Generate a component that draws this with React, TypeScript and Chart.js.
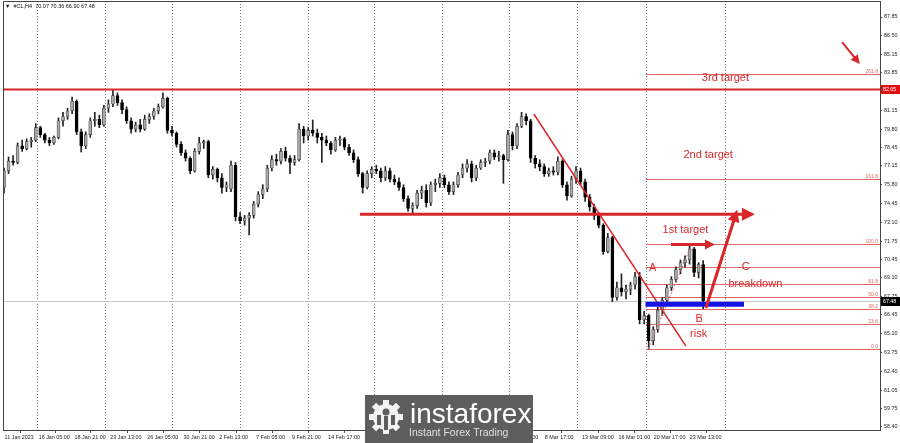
import React, { useEffect, useRef } from 'react';
import { Chart, registerables } from 'chart.js';
Chart.register(...registerables);

// ---- DATA (8-hour candles, #CL H4 chart) ----
const opens = [75.6,76.8,77.5,77.4,78.6,78.4,78.9,79.0,79.9,79.4,79.0,78.8,79.2,80.4,80.7,81.1,81.8,79.6,78.6,79.4,80.4,80.5,80.1,81.3,81.6,82.2,81.7,81.2,80.4,79.8,80.1,79.8,80.5,80.7,81.1,81.4,82.0,79.7,79.5,78.7,78.1,77.7,76.8,78.2,78.8,78.9,76.5,76.9,76.3,75.6,75.5,77.2,73.5,73.2,73.4,73.6,74.4,75.1,75.5,77.0,77.6,77.5,78.2,77.7,77.4,77.6,79.8,79.3,79.7,79.5,79.2,79.0,78.8,78.3,79.0,79.1,78.5,78.1,77.6,76.6,75.6,76.6,76.9,76.8,76.3,76.8,76.2,76.0,75.6,74.8,74.1,74.3,75.2,75.4,74.5,75.8,75.9,76.3,75.8,75.3,75.8,76.5,77.0,77.3,76.3,77.0,77.4,77.5,78.1,77.8,77.9,77.6,79.4,78.6,80.0,80.7,80.4,77.7,77.3,77.1,76.6,76.8,76.7,77.5,75.8,75.0,76.2,76.8,76.0,74.9,74.2,73.6,72.9,71.0,72.0,67.7,68.4,68.1,68.3,68.6,69.2,66.1,66.4,64.6,65.4,66.8,67.5,68.4,69.0,69.7,70.2,70.4,71.2,69.5,70.07];
const highs = [77.0,77.8,77.9,78.8,79.0,79.1,79.2,80.2,80.0,79.5,79.2,79.3,80.6,81.0,81.3,82.1,81.9,79.8,79.6,80.6,81.0,80.8,81.5,81.9,82.6,82.4,81.9,81.4,80.6,80.3,80.5,80.8,80.9,81.3,81.6,82.4,82.1,80.0,79.6,78.9,78.3,77.8,78.4,79.2,79.0,79.0,77.1,77.0,76.6,76.0,77.5,77.4,73.8,73.6,73.8,74.6,75.3,75.8,77.2,77.9,78.0,78.4,78.5,77.9,77.9,80.2,80.0,79.9,80.45,79.8,79.5,79.3,78.9,79.2,79.3,79.2,78.7,78.3,77.8,76.7,76.8,77.1,77.2,77.0,77.1,77.0,76.5,76.3,75.8,75.0,74.5,75.4,75.7,75.8,76.0,76.2,76.6,76.5,76.0,76.0,76.7,77.3,77.6,77.5,77.2,77.6,77.7,78.3,78.3,78.2,78.0,79.7,79.6,80.2,81.0,80.9,80.5,77.9,77.6,77.3,77.0,77.1,77.8,77.6,76.0,76.4,77.1,77.0,76.2,75.1,74.4,73.8,73.0,72.3,72.1,68.8,69.4,68.6,68.8,69.5,69.5,66.7,66.5,65.6,67.0,67.7,68.6,69.2,69.9,70.4,70.7,71.55,71.3,70.2,70.36];
const lows = [75.2,76.6,77.2,77.3,78.2,78.3,78.5,78.9,79.2,78.8,78.6,78.7,79.1,80.0,80.5,80.9,79.4,78.15,78.4,79.2,80.0,79.9,80.0,81.0,81.4,81.5,80.9,80.2,79.5,79.6,79.6,79.7,80.2,80.5,80.9,81.3,79.5,79.3,78.5,77.9,77.5,76.6,76.7,78.0,78.4,76.3,76.2,76.0,75.2,75.3,75.3,73.2,73.0,72.9,72.2,73.4,74.2,74.8,75.3,76.8,77.2,77.3,77.5,76.6,77.2,77.5,78.8,79.0,79.3,78.8,77.4,78.6,78.0,78.2,78.6,78.3,77.9,77.4,76.4,75.2,75.5,76.3,76.6,76.0,76.1,76.0,75.8,75.4,74.6,73.9,73.7,74.1,74.8,74.2,74.3,75.3,75.6,75.6,75.1,75.1,75.6,76.3,76.7,76.0,76.1,76.9,77.1,77.3,77.6,77.5,75.9,77.5,78.3,78.4,79.9,80.1,77.4,77.0,76.8,76.4,76.4,76.5,76.5,75.6,74.7,74.9,75.9,75.8,74.6,73.9,73.3,72.7,70.8,70.9,67.4,67.5,67.8,67.6,67.9,68.3,65.8,65.8,64.0,64.3,65.2,66.4,67.2,68.2,68.8,69.4,69.9,70.1,69.2,69.1,66.90];
const closes = [76.8,77.5,77.4,78.6,78.4,78.9,79.0,79.9,79.4,79.0,78.8,79.2,80.4,80.7,81.1,81.8,79.6,78.6,79.4,80.4,80.5,80.1,81.3,81.6,82.2,81.7,81.2,80.4,79.8,80.1,79.8,80.5,80.7,81.1,81.4,82.0,79.7,79.5,78.7,78.1,77.7,76.8,78.2,78.8,78.9,76.5,76.9,76.3,75.6,75.8,77.2,73.5,73.2,73.4,73.6,74.4,75.1,75.5,77.0,77.6,77.5,78.2,77.7,77.4,77.6,79.8,79.3,79.7,79.5,79.2,79.0,78.8,78.3,79.0,79.1,78.5,78.1,77.6,76.6,75.6,76.6,76.9,76.8,76.3,76.8,76.2,76.0,75.6,74.8,74.1,74.3,75.2,75.4,74.5,75.8,75.9,76.3,75.8,75.3,75.8,76.5,77.0,77.3,76.3,77.0,77.4,77.5,78.1,77.8,77.9,77.6,79.4,78.6,80.0,80.7,80.4,77.7,77.3,77.1,76.6,76.8,76.7,77.5,75.8,75.0,76.2,76.8,76.0,74.9,74.2,73.6,72.9,71.0,72.0,67.7,68.4,68.1,68.3,68.6,69.2,66.1,66.4,64.6,65.4,66.8,67.5,68.4,69.0,69.7,70.2,70.4,71.2,69.5,70.07,67.48];

const xTickIdx = [-0.2,7.3,15.2,23.1,31.2,39.2,47.1,55.2,63.1,71.1,79.1,87.1,95.1,103.1,111.0,118.8,127.0,135.0,142.8,150.7];
const xTickLabels = ['11 Jan 2023','16 Jan 05:00','18 Jan 21:00','23 Jan 13:00','26 Jan 05:00','30 Jan 21:00','2 Feb 13:00','7 Feb 05:00','9 Feb 21:00','14 Feb 17:00','17 Feb 09:00','22 Feb 01:00','24 Feb 17:00','1 Mar 09:00','6 Mar 01:00','8 Mar 17:00','13 Mar 09:00','16 Mar 01:00','20 Mar 17:00','23 Mar 13:00'];
const yTickValues = [87.85,86.50,85.15,83.85,82.50,81.15,79.80,78.45,77.15,75.80,74.45,73.10,71.75,70.45,69.10,67.75,66.45,65.10,63.75,62.40,61.05,59.75,58.40];
const gridIdx = [7.3,22.2,37.0,52.0,67.0,81.5,96.5,111.2,126.2,141.4,158.8];

const fibLevels = [0, 23.6, 38.2, 50.0, 61.8, 100.0, 161.8, 261.8];
const fibLow = 64.0;
const fibHigh = 71.54;
const fibStartIdx = 141.3;
const lineC = 69.87;
const resistance = 82.65;
const support = 73.68;
const lastPrice = 67.48;
const blueLevel = 67.21;

const X_MIN = -0.22, X_MAX = 192.95, Y_MIN = 58.18, Y_MAX = 89.0;

const notes = [
  { text: '3rd target', i: 158.9, v: 83.49 },
  { text: '2nd target', i: 155.1, v: 77.91 },
  { text: '1st target', i: 150.1, v: 72.55 },
  { text: 'A', i: 142.9, v: 69.8 },
  { text: 'C', i: 163.4, v: 69.87 },
  { text: 'breakdown', i: 165.5, v: 68.67 },
  { text: 'B', i: 153.1, v: 66.13 },
  { text: 'risk', i: 153.0, v: 65.06 },
];

const AX_FONT = "'Liberation Sans', Arial, sans-serif";
const RED = '#d8262a';
const FIB = '#e06464';

function arrow(ctx: CanvasRenderingContext2D, x1: number, y1: number, x2: number, y2: number, w: number, head: number, color: string) {
  const ang = Math.atan2(y2 - y1, x2 - x1);
  ctx.strokeStyle = color; ctx.lineWidth = w; ctx.lineCap = 'butt';
  ctx.beginPath(); ctx.moveTo(x1, y1);
  ctx.lineTo(x2 - Math.cos(ang) * head * 0.8, y2 - Math.sin(ang) * head * 0.8); ctx.stroke();
  ctx.fillStyle = color; ctx.beginPath();
  ctx.moveTo(x2, y2);
  ctx.lineTo(x2 - head * Math.cos(ang) + head * 0.5 * Math.sin(ang), y2 - head * Math.sin(ang) - head * 0.5 * Math.cos(ang));
  ctx.lineTo(x2 - head * Math.cos(ang) - head * 0.5 * Math.sin(ang), y2 - head * Math.sin(ang) + head * 0.5 * Math.cos(ang));
  ctx.closePath(); ctx.fill();
}

const overlay = {
  id: 'overlay',
  beforeDatasetsDraw(chart: any) {
    const { ctx, chartArea: a, scales } = chart;
    const px = (i: number) => scales.x.getPixelForValue(i);
    const py = (v: number) => scales.y.getPixelForValue(v);
    ctx.save();
    ctx.beginPath(); ctx.rect(a.left, a.top, a.right - a.left, a.bottom - a.top); ctx.clip();
    ctx.strokeStyle = '#7a7a7a'; ctx.lineWidth = 1; ctx.setLineDash([1, 2]);
    gridIdx.forEach((g) => { const X = Math.round(px(g)) + 0.5; ctx.beginPath(); ctx.moveTo(X, a.top); ctx.lineTo(X, a.bottom); ctx.stroke(); });
    ctx.setLineDash([]);
    // last price line
    ctx.strokeStyle = '#c8c8c8';
    let Y = Math.round(py(lastPrice)) + 0.5;
    ctx.beginPath(); ctx.moveTo(a.left, Y); ctx.lineTo(a.right, Y); ctx.stroke();
    // fib levels
    ctx.strokeStyle = FIB; ctx.fillStyle = FIB;
    ctx.font = `5px ${AX_FONT}`; ctx.textAlign = 'right'; ctx.textBaseline = 'bottom';
    const x0 = Math.round(px(fibStartIdx));
    fibLevels.forEach((f) => {
      const v = fibLow + (fibHigh - fibLow) * f / 100;
      const yy = Math.round(py(v)) + 0.5;
      ctx.beginPath(); ctx.moveTo(x0, yy); ctx.lineTo(a.right, yy); ctx.stroke();
      ctx.fillText(f.toFixed(1), a.right - 2, yy - 0.5);
    });
    Y = Math.round(py(lineC)) + 0.5;
    ctx.beginPath(); ctx.moveTo(x0, Y); ctx.lineTo(a.right, Y); ctx.stroke();
    ctx.restore();
  },
  afterDatasetsDraw(chart: any) {
    const { ctx, chartArea: a, scales } = chart;
    const px = (i: number) => scales.x.getPixelForValue(i);
    const py = (v: number) => scales.y.getPixelForValue(v);
    ctx.save();
    ctx.beginPath(); ctx.rect(a.left, a.top, a.right - a.left, a.bottom - a.top); ctx.clip();
    // resistance line
    ctx.strokeStyle = RED; ctx.lineWidth = 2;
    let Y = py(resistance);
    ctx.beginPath(); ctx.moveTo(a.left, Y); ctx.lineTo(a.right, Y); ctx.stroke();
    // support line with arrow
    arrow(ctx, px(78.4), py(support), px(165.4), py(support), 3, 13, RED);
    // trend line
    ctx.strokeStyle = RED; ctx.lineWidth = 1.5;
    ctx.beginPath(); ctx.moveTo(px(116.7), py(80.88)); ctx.lineTo(px(150.2), py(64.21)); ctx.stroke();
    // fib diagonal (dotted)
    ctx.strokeStyle = FIB; ctx.lineWidth = 1; ctx.setLineDash([2, 2]);
    ctx.beginPath(); ctx.moveTo(px(141.9), py(fibLow)); ctx.lineTo(px(151.5), py(fibHigh)); ctx.stroke();
    ctx.setLineDash([]);
    // blue level
    ctx.strokeStyle = '#1414e6'; ctx.lineWidth = 5;
    Y = py(blueLevel);
    ctx.beginPath(); ctx.moveTo(px(141.3), Y); ctx.lineTo(px(163.0), Y); ctx.stroke();
    // 1st target arrow
    arrow(ctx, px(146.9), py(71.5), px(156.6), py(71.5), 3, 10, RED);
    // big rise arrow
    arrow(ctx, px(154.6), py(66.95), px(161.5), py(74.0), 3, 12, RED);
    // top-right arrow
    arrow(ctx, px(184.6), py(86.05), px(188.5), py(84.47), 2, 9, RED);
    // notes
    ctx.fillStyle = RED; ctx.font = "11px 'Liberation Sans', Arial, sans-serif";
    ctx.textAlign = 'center'; ctx.textBaseline = 'middle';
    notes.forEach((n) => ctx.fillText(n.text, px(n.i), py(n.v)));
    ctx.restore();
  },
  afterDraw(chart: any) {
    const { ctx, chartArea: a, scales } = chart;
    const py = (v: number) => scales.y.getPixelForValue(v);
    ctx.save();
    // frame
    ctx.strokeStyle = '#444'; ctx.lineWidth = 1;
    ctx.beginPath(); ctx.moveTo(a.left + 0.5, a.bottom); ctx.lineTo(a.left + 0.5, a.top + 0.5); ctx.lineTo(a.right, a.top + 0.5); ctx.stroke();
    // price tags
    const tag = (v: number, bg: string) => {
      const yy = py(v);
      ctx.fillStyle = bg; ctx.fillRect(a.right + 1, Math.round(yy) - 4, 19, 9);
      ctx.fillStyle = '#fff'; ctx.font = `5.3px ${AX_FONT}`; ctx.textAlign = 'left'; ctx.textBaseline = 'middle';
      ctx.fillText(v.toFixed(2), a.right + 3, Math.round(yy) + 0.5);
    };
    tag(resistance, '#e01010');
    tag(lastPrice, '#000');
    // header
    ctx.fillStyle = '#111'; ctx.font = `5.5px ${AX_FONT}`; ctx.textAlign = 'left'; ctx.textBaseline = 'middle';
    ctx.fillText('\u25BC  #CL,H4  70.07 70.36 66.90 67.48', a.left + 2, a.top + 5);
    // logo
    const lx = 365, ly = 395;
    ctx.fillStyle = '#5e5e5e'; ctx.fillRect(lx, ly, 168, 48);
    // gear
    const gx = lx + 21, gy = ly + 22;
    ctx.fillStyle = '#f2f2f2';
    ctx.beginPath();
    for (let k = 0; k < 8; k++) {
      const an = k * Math.PI / 4;
      ctx.save(); ctx.translate(gx, gy); ctx.rotate(an); ctx.rect(-3, -17, 6, 6); ctx.restore();
    }
    ctx.fill();
    ctx.beginPath(); ctx.arc(gx, gy, 13, 0, Math.PI * 2); ctx.fill();
    ctx.fillStyle = '#5e5e5e';
    ctx.beginPath(); ctx.arc(gx, gy - 5, 3.5, 0, Math.PI * 2); ctx.fill();
    ctx.fillRect(gx - 2, gy - 1, 4, 14);
    ctx.fillRect(gx - 9, gy - 2, 4, 10);
    ctx.fillRect(gx + 5, gy - 2, 4, 10);
    ctx.fillStyle = '#ffffff'; ctx.font = "28px 'Liberation Sans', Arial, sans-serif";
    ctx.textAlign = 'left'; ctx.textBaseline = 'alphabetic';
    ctx.fillText('instaforex', lx + 45, ly + 28);
    ctx.fillStyle = '#e0e0e0'; ctx.font = "10.5px 'Liberation Sans', Arial, sans-serif";
    ctx.fillText('Instant Forex Trading', lx + 44, ly + 41);
    ctx.restore();
  },
};

export default function App() {
  const ref = useRef<HTMLCanvasElement | null>(null);
  useEffect(() => {
    document.body.style.margin = '0';
    if (!ref.current) return;
    const bull = (i: number) => closes[i] >= opens[i];
    const bodies = opens.map((o, i) => ({ x: i, y: [o, Math.abs(closes[i] - o) < 0.02 ? o + 0.03 : closes[i]] }));
    const wicks = opens.map((_, i) => ({ x: i, y: [lows[i], highs[i]] }));
    const chart = new Chart(ref.current, {
      type: 'bar',
      data: {
        datasets: [
          {
            data: bodies as any, grouped: false, barThickness: 3,
            backgroundColor: opens.map((_, i) => (bull(i) ? '#a8a8a8' : '#000000')),
            borderColor: opens.map((_, i) => (bull(i) ? '#444444' : '#000000')), borderWidth: 0.7, borderSkipped: false,
          } as any,
          {
            data: wicks as any, grouped: false, barThickness: 1,
            backgroundColor: '#222222', borderWidth: 0,
          } as any,
        ],
      },
      options: {
        responsive: false, animation: false, devicePixelRatio: 1,
        layout: { padding: { left: 3, top: 1, right: 0, bottom: 0 } },
        plugins: { legend: { display: false }, tooltip: { enabled: false }, title: { display: false } },
        scales: {
          x: {
            type: 'linear', min: X_MIN, max: X_MAX, offset: false, position: 'bottom',
            afterBuildTicks: (s: any) => { s.ticks = xTickIdx.map((v) => ({ value: v })); },
            afterFit: (s: any) => { s.height = 13; s.paddingLeft = 0; s.paddingRight = 0; },
            ticks: {
              autoSkip: false, maxRotation: 0, minRotation: 0, align: 'start', padding: 1, labelOffset: 1.5,
              font: { family: AX_FONT, size: 5.4 }, color: '#222',
              callback: (_v: any, idx: number) => xTickLabels[idx],
            },
            grid: { drawOnChartArea: false, drawTicks: true, tickLength: 3, color: '#555' },
            border: { display: true, color: '#444' },
          } as any,
          y: {
            type: 'linear', position: 'right', min: Y_MIN, max: Y_MAX,
            afterBuildTicks: (s: any) => { s.ticks = yTickValues.map((v) => ({ value: v })); },
            afterFit: (s: any) => { s.width = 20; s.paddingTop = 0; s.paddingBottom = 0; },
            ticks: {
              autoSkip: false, padding: 2,
              font: { family: AX_FONT, size: 5.4 }, color: '#222',
              callback: (_v: any, idx: number) => yTickValues[idx].toFixed(2),
            },
            grid: { drawOnChartArea: false, drawTicks: true, tickLength: 2, color: '#555' },
            border: { display: true, color: '#444' },
          } as any,
        },
      },
      plugins: [overlay],
    });
    return () => chart.destroy();
  }, []);
  return (
    <div style={{ width: 900, height: 443, background: '#fff' }}>
      <canvas ref={ref} width={900} height={443} style={{ display: 'block' }} />
    </div>
  );
}
